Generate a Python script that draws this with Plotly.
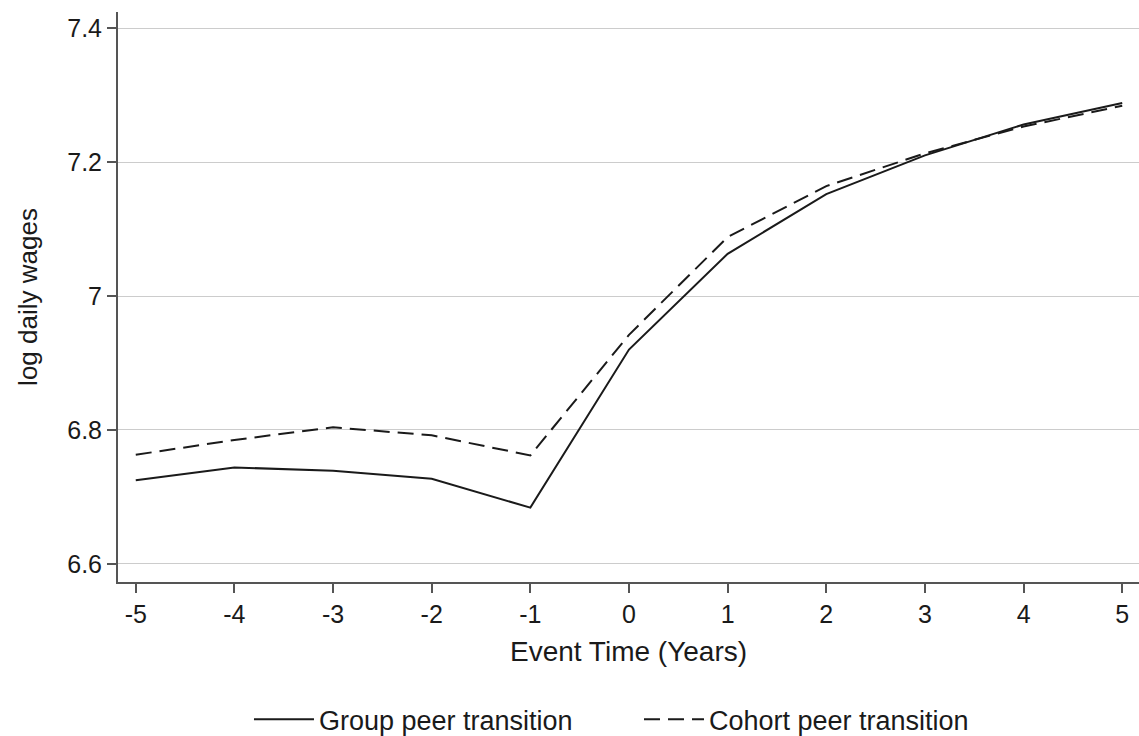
import plotly.graph_objects as go

# Event time relative to the transition (years)
event_time = [-5, -4, -3, -2, -1, 0, 1, 2, 3, 4, 5]
x_tick_text = ["-5", "-4", "-3", "-2", "-1", "0", "1", "2", "3", "4", "5"]

# Mean log daily wages by event time
group_peer = [6.725, 6.744, 6.739, 6.727, 6.684, 6.920, 7.063, 7.152, 7.210, 7.256, 7.288]
cohort_peer = [6.763, 6.785, 6.804, 6.792, 6.762, 6.942, 7.088, 7.164, 7.213, 7.253, 7.284]

y_ticks = [6.6, 6.8, 7.0, 7.2, 7.4]
y_tick_text = ["6.6", "6.8", "7", "7.2", "7.4"]

FONT = "Liberation Sans, Arial, sans-serif"
INK = "#1a1a1a"
AXIS = "#555555"

fig = go.Figure()
fig.add_trace(go.Scatter(
    x=event_time, y=group_peer, mode="lines", name="Group peer transition",
    line=dict(color=INK, width=2),
))
fig.add_trace(go.Scatter(
    x=event_time, y=cohort_peer, mode="lines", name="Cohort peer transition",
    line=dict(color=INK, width=2, dash="16px,8px"),
))

fig.update_layout(
    width=1139, height=736,
    margin=dict(l=118, r=0, t=12, b=154),
    paper_bgcolor="white", plot_bgcolor="white",
    font=dict(family=FONT, size=26, color=INK),
    showlegend=True,
    legend=dict(
        orientation="h", xref="container", x=0.561, xanchor="center",
        yref="container", y=0.022, yanchor="middle",
        font=dict(size=27, color=INK), itemwidth=60, tracegroupgap=0,
        entrywidth=315,
    ),
    xaxis=dict(
        range=[-5.18, 5.17], tickmode="array", tickvals=event_time, ticktext=x_tick_text,
        showgrid=False, zeroline=False, automargin=False,
        showline=True, linecolor=AXIS, linewidth=2,
        ticks="outside", ticklen=9, tickcolor=AXIS, tickwidth=1.5,
        tickfont=dict(size=25),
        title=dict(text="Event Time (Years)", font=dict(size=28), standoff=14),
    ),
    yaxis=dict(
        range=[6.573, 7.424], tickmode="array", tickvals=y_ticks, ticktext=y_tick_text,
        showgrid=True, gridcolor="#cccccc", gridwidth=1, zeroline=False, automargin=False,
        showline=True, linecolor=AXIS, linewidth=2,
        ticks="outside", ticklen=9, tickcolor=AXIS, tickwidth=1.5,
        tickfont=dict(size=25),
        title=dict(text="log daily wages", font=dict(size=26), standoff=22),
    ),
)

fig.write_html("out.html")
